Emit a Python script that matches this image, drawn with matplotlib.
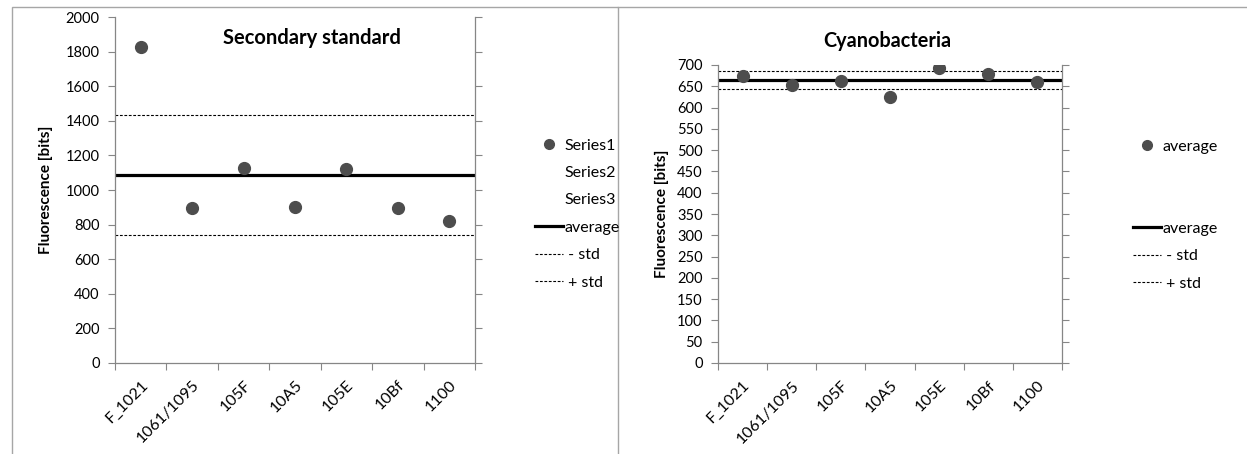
# Fluorescence of the secondary standard and of cyanobacteria, per sample

import matplotlib
matplotlib.use('Agg')
import matplotlib.pyplot as plt
from matplotlib.lines import Line2D
from matplotlib.patches import Rectangle

plt.rcParams['font.family'] = ['Lato', 'DejaVu Sans']

# Data
samples = ['F_1021', '1061/1095', '105F', '10A5', '105E', '10Bf', '1100']
secondary = [1830, 897, 1128, 900, 1123, 893, 818]
secondary_avg = 1086
secondary_std = 348
cyano = [675, 653, 662, 624, 694, 679, 661]
cyano_avg = 664
cyano_std = 21.5

GRAY = '#868686'
DOT = '#4d4d4d'


def draw_panel(ax, values, avg, std, ymax, ystep):
    x = list(range(len(samples)))
    ax.plot(x, values, 'o', color=DOT, markersize=8.5, zorder=3)
    ax.axhline(avg, color='black', lw=2.3, zorder=2)
    ax.axhline(avg - std, color='black', lw=0.8, ls=(0, (2.5, 1.5)))
    ax.axhline(avg + std, color='black', lw=0.8, ls=(0, (2.5, 1.5)))

    ax.set_xlim(-0.5, len(samples) - 0.5)
    ax.set_ylim(0, ymax)
    ax.set_yticks(range(0, ymax + 1, ystep))
    # category boundaries carry the tick marks, centres carry the labels
    ax.set_xticks([i - 0.5 for i in range(len(samples) + 1)])
    ax.set_xticklabels([])
    ax.set_xticks(x, minor=True)
    ax.set_xticklabels(samples, minor=True, rotation=45, ha='right',
                       rotation_mode='anchor', fontsize=11.5)
    ax.tick_params(axis='x', which='minor', length=0, pad=11)
    ax.tick_params(axis='x', which='major', length=5, color=GRAY)
    ax.tick_params(axis='y', length=5, color=GRAY, right=True,
                   labelsize=10.5, pad=6)

    ax.spines['top'].set_visible(False)
    for s in ('left', 'right', 'bottom'):
        ax.spines[s].set_color(GRAY)
        ax.spines[s].set_linewidth(0.9)
    ax.set_ylabel('Fluorescence [bits]', fontsize=11, fontweight='bold')


fig = plt.figure(figsize=(12.47, 4.54), dpi=100)

# panel frames
fig.patches.append(Rectangle((12 / 1247, -0.1), 606 / 1247, 1.1 - 7 / 454,
                             transform=fig.transFigure, fill=False,
                             edgecolor='#a6a6a6', lw=1))
fig.add_artist(Line2D([618 / 1247, 1], [1 - 7 / 454, 1 - 7 / 454],
                      transform=fig.transFigure, color='#a6a6a6', lw=1))

ax1 = fig.add_axes([115 / 1247, 91.3 / 454, 360 / 1247, 345.4 / 454])
draw_panel(ax1, secondary, secondary_avg, secondary_std, 2000, 200)
ax1.yaxis.set_label_coords(-0.172, 0.5)
fig.text(312 / 1247, 1 - 38 / 454, 'Secondary standard', ha='center',
         va='center', fontsize=14.5, fontweight='bold')

ax2 = fig.add_axes([718 / 1247, 91 / 454, 344 / 1247, 298 / 454])
draw_panel(ax2, cyano, cyano_avg, cyano_std, 700, 50)
ax2.yaxis.set_label_coords(-0.142, 0.5)
fig.text(887 / 1247, 1 - 41 / 454, 'Cyanobacteria', ha='center',
         va='center', fontsize=14.3, fontweight='bold')

# legends
dot = Line2D([], [], ls='none', marker='o', color=DOT, markersize=7)
blank = Line2D([], [], ls='none')
avg_line = Line2D([], [], color='black', lw=2.3)
std_line = Line2D([], [], color='black', lw=0.8, ls=(0, (2.5, 1.5)))

leg_kw = dict(frameon=False, fontsize=11.5, handlelength=1.75,
              handletextpad=0.05, labelspacing=0.83, borderaxespad=0,
              loc='upper left')
fig.legend([dot, blank, blank, avg_line, std_line, std_line],
           ['Series1', 'Series2', 'Series3', 'average', ' - std', ' + std'],
           bbox_to_anchor=(529 / 1247, 1 - 132 / 454), **leg_kw)
fig.legend([dot, blank, blank, avg_line, std_line, std_line],
           ['average', '', '', 'average', ' - std', ' + std'],
           bbox_to_anchor=(1127 / 1247, 1 - 133 / 454), **leg_kw)

fig.savefig('out.png', dpi=100)
